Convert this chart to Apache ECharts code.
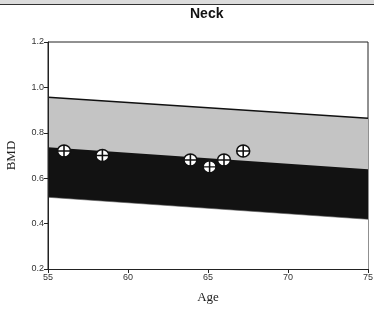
<!DOCTYPE html>
<html>
<head>
<meta charset="utf-8">
<script src="https://cdn.jsdelivr.net/npm/echarts@6/dist/echarts.min.js"></script>
<style>
  html, body { margin: 0; padding: 0; background: #fff; }
  #neck-chart { width: 374px; height: 309px; }
</style>
</head>
<body>
<div id="neck-chart"></div>
<script>
    // band edges at age 55 and 75
    var ages = [55, 75];
    var topLine = [0.957, 0.864];
    var midLine = [0.736, 0.639];
    var lowLine = [0.516, 0.419];

    // patient measurements
    var ptAge = [56.0, 58.4, 63.9, 65.1, 66.0, 67.2];
    var ptBmd = [0.72, 0.70, 0.68, 0.65, 0.68, 0.72];

    var xTicks = [55, 60, 65, 70, 75];
    var yTicks = [0.2, 0.4, 0.6, 0.8, 1.0, 1.2];

    function pairs(xs, ys) {
        return xs.map(function(x, i) { return [x, ys[i]]; });
    }

    var dom = document.getElementById("neck-chart");
    var myChart = echarts.init(dom);

    var markSym = 'path://M0,5A5,5 0 1,1 10,5A5,5 0 1,1 0,5ZM5,0L5,10M0,5L10,5';

    // each band is filled down to the axis, the next one paints over it
    function band(name, ys, fill, lineColor, lineWidth, z) {
        return {
            name: name,
            type: 'line',
            data: pairs(ages, ys),
            symbol: 'none',
            z: z,
            lineStyle: { color: lineColor, width: lineWidth },
            areaStyle: { color: fill, opacity: 1, origin: 'start' }
        };
    }

    var option = {
        animation: false,
        title: {
            text: 'Neck',
            left: 185,
            top: 2,
            textStyle: { fontFamily: 'Liberation Sans', fontWeight: 'bold', fontSize: 14, color: '#111' }
        },
        graphic: [{
            type: 'rect',
            shape: { x: 0, y: 0, width: 374, height: 4 },
            style: { fill: '#dcdcdc' },
            z: 10
        }, {
            type: 'line',
            shape: { x1: 0, y1: 4.5, x2: 374, y2: 4.5 },
            style: { stroke: '#333', lineWidth: 1 },
            z: 10
        }],
        grid: {
            left: 48, right: 6, top: 42, bottom: 40,
            outerBoundsMode: 'none',
            show: true, borderColor: '#222', borderWidth: 1
        },
        xAxis: {
            type: 'value', min: 55, max: 75, interval: 5, z: 10,
            name: 'Age', nameLocation: 'middle', nameGap: 22,
            nameTextStyle: { fontFamily: 'Liberation Serif', fontSize: 13, color: '#222' },
            axisLine: { lineStyle: { color: '#222' } },
            axisTick: { length: 4, lineStyle: { color: '#222' } },
            axisLabel: { fontFamily: 'Liberation Sans', fontSize: 9, color: '#333', margin: 4,
                formatter: function(v) { return xTicks.indexOf(v) >= 0 ? v : ''; } },
            splitLine: { show: false }
        },
        yAxis: {
            type: 'value', min: 0.2, max: 1.2, interval: 0.2, z: 10,
            name: 'BMD', nameLocation: 'middle', nameGap: 30,
            nameTextStyle: { fontFamily: 'Liberation Serif', fontSize: 13, color: '#222' },
            axisLine: { show: true, lineStyle: { color: '#222' } },
            axisTick: { show: true, length: 4, lineStyle: { color: '#222' } },
            axisLabel: { fontFamily: 'Liberation Sans', fontSize: 9, color: '#333', margin: 4,
                formatter: function(v) { return v.toFixed(1); } },
            splitLine: { show: false }
        },
        series: [
            band('light', topLine, '#c4c4c4', '#111', 1.5, 2),
            band('dark', midLine, '#121212', '#121212', 0, 3),
            band('base', lowLine, '#ffffff', '#555', 0.6, 4),
            {
                name: 'patient',
                type: 'scatter',
                data: pairs(ptAge, ptBmd),
                symbol: markSym,
                symbolSize: [13, 12],
                itemStyle: { color: '#fff', borderColor: '#111', borderWidth: 1.5, opacity: 1 },
                z: 6
            }
        ]
    };

    myChart.setOption(option, true);
</script>
</body>
</html>
